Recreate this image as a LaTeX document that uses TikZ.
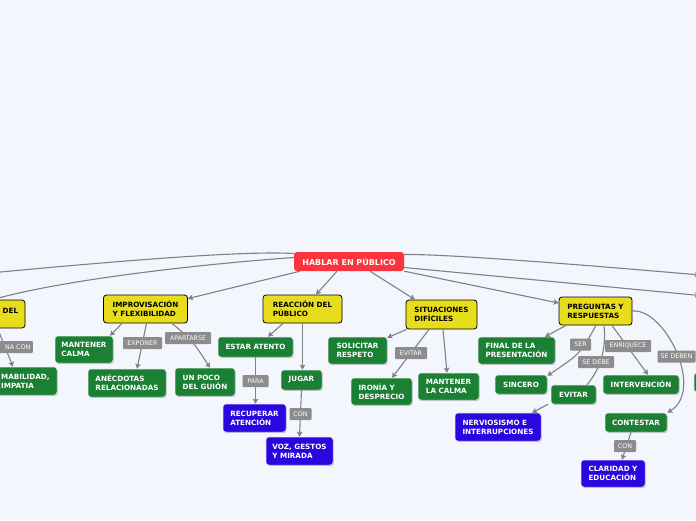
\documentclass[tikz,border=0pt]{standalone}
\usepackage{fontspec}
\setmainfont{DejaVu Sans}
\usetikzlibrary{arrows.meta,shadows}
\definecolor{bg}{RGB}{243,246,253}
\definecolor{hred}{RGB}{250,52,62}
\definecolor{yel}{RGB}{232,221,29}
\definecolor{grn}{RGB}{27,128,52}
\definecolor{blu}{RGB}{44,6,222}
\definecolor{lgray}{RGB}{140,140,140}
\definecolor{cgray}{RGB}{128,128,134}
\tikzset{
  basebox/.style={rounded corners=3pt, inner xsep=2pt, inner ysep=0pt, align=left,
    font=\bfseries\fontsize{7.2}{8.8}\selectfont},
  redbox/.style={basebox, fill=hred, text=white, font=\bfseries\fontsize{8}{9}\selectfont},
  ybox/.style={basebox, fill=yel, draw=black, line width=0.8pt},
  gbox/.style={basebox, fill=grn, text=white, draw=white!85!grn, line width=0.5pt,
    drop shadow={shadow xshift=0.7pt, shadow yshift=-0.9pt, opacity=0.25, fill=black}},
  bbox/.style={gbox, fill=blu, draw=white!85!blu},
  lbl/.style={fill=lgray, text=white, rounded corners=1pt, inner sep=0pt,
    minimum height=12pt, font=\fontsize{6.3}{7}\selectfont},
  conn/.style={draw=cgray, line width=1.1pt, -{Stealth[length=5pt,width=5.5pt,inset=1pt]}},
  plain/.style={draw=cgray, line width=1.1pt},
}
\begin{document}
\begin{tikzpicture}[x=1pt,y=-1pt]
\fill[bg] (0,0) rectangle (696,520);
\useasboundingbox (0,0) rectangle (696,520);

% main nodes
\node[redbox, minimum width=110, minimum height=19] (hab) at (349,261.5) {HABLAR EN PÚBLICO};
\node[ybox, minimum width=85, minimum height=28] (del) at (-17.5,314) {};
\node[font=\bfseries\fontsize{7.2}{8.8}\selectfont, inner sep=0pt, anchor=west] (deltxt) at (2.5,310.5) {DEL};
\node[ybox, minimum width=84, minimum height=28] (improv) at (145.5,309) {IMPROVISACIÓN\\Y FLEXIBILIDAD};
\node[ybox, minimum width=79, minimum height=28] (reac) at (302.5,309) {REACCIÓN DEL\\PÚBLICO};
\node[ybox, minimum width=71, minimum height=29] (sit) at (441.5,314.5) {SITUACIONES\\DIFÍCILES};
\node[ybox, minimum width=73, minimum height=28] (preg) at (595.5,311) {PREGUNTAS Y\\RESPUESTAS};

% second level
\node[gbox, minimum width=70, minimum height=28] (amab) at (22,381) {};
\node[font=\bfseries\fontsize{7.2}{8.8}\selectfont, text=white, inner sep=0pt, anchor=west, align=left] (amabtxt) at (1,381) {MABILIDAD,\\IMPATIA};
\node[gbox, minimum width=58, minimum height=27] (mcalma) at (84,349.5) {MANTENER\\CALMA};
\node[gbox, minimum width=78, minimum height=28] (anec) at (127,383) {ANÉCDOTAS\\RELACIONADAS};
\node[gbox, minimum width=60, minimum height=28] (unpoco) at (205,382) {UN POCO\\DEL GUIÓN};
\node[gbox, minimum width=75, minimum height=20] (estar) at (255.5,347) {ESTAR ATENTO};
\node[gbox, minimum width=41, minimum height=20] (jugar) at (301.5,380) {JUGAR};
\node[bbox, minimum width=63, minimum height=28] (recup) at (254.5,418) {RECUPERAR\\ATENCIÓN};
\node[bbox, minimum width=67, minimum height=28] (voz) at (299.5,451) {VOZ, GESTOS\\Y MIRADA};
\node[gbox, minimum width=59, minimum height=27] (solic) at (357.5,350.5) {SOLICITAR\\RESPETO};
\node[gbox, minimum width=61, minimum height=27] (ironia) at (381.5,391.5) {IRONÍA Y\\DESPRECIO};
\node[gbox, minimum width=61, minimum height=27] (mant2) at (448.5,386.5) {MANTENER\\LA CALMA};
\node[gbox, minimum width=77, minimum height=27] (final) at (516.5,350.5) {FINAL DE LA\\PRESENTACIÓN};
\node[gbox, minimum width=52, minimum height=19] (sincero) at (521,384.5) {SINCERO};
\node[gbox, minimum width=45, minimum height=19] (evitar) at (573.5,394.5) {EVITAR};
\node[bbox, minimum width=86, minimum height=28] (nerv) at (498,427) {NERVIOSISMO E\\INTERRUPCIONES};
\node[gbox, minimum width=76, minimum height=19] (interv) at (641,384.5) {INTERVENCIÓN};
\node[gbox, minimum width=62, minimum height=19] (contest) at (636,422.5) {CONTESTAR};
\node[bbox, minimum width=64, minimum height=27] (clar) at (613,473.5) {CLARIDAD Y\\EDUCACIÓN};
\node[gbox, minimum width=66, minimum height=19] (rightbox) at (727,382.5) {};

% free ends
\coordinate (offL1) at (-5,272.5);
\coordinate (offR1) at (700,275);
\coordinate (offR2) at (700,295.5);

% connectors
\draw[conn] ([yshift=8pt]hab.west) .. controls (250,251) and (150,258) .. (offL1);
\draw[conn] ([yshift=4pt]hab.west) .. controls (230,262) and (80,276) .. ([xshift=10pt]del.north);
\draw[conn] ([xshift=-49pt]hab.south) -- ([yshift=-4pt]improv.north east);
\draw[conn] ([xshift=-12pt]hab.south) -- ([xshift=13.5pt]reac.north);
\draw[conn] ([xshift=21pt]hab.south) -- ([xshift=-26.5pt]sit.north);
\draw[conn] (hab.south east) -- ([yshift=8pt]preg.west);
\draw[conn] ([yshift=7pt]hab.east) .. controls (440,254) and (550,262) .. (offR1);
\draw[conn] ([yshift=-6pt]hab.east) -- (offR2);

\draw[conn] ([xshift=15pt]del.south) -- ([xshift=-9pt]amab.north);
\draw[conn] ([xshift=-23.5pt]improv.south) -- ([xshift=26pt]mcalma.north);
\draw[conn] ([xshift=1pt]improv.south) -- ([xshift=10pt]anec.north);
\draw[conn] ([xshift=26.5pt]improv.south) .. controls (192,340) .. ([xshift=5pt]unpoco.north);
\draw[conn] ([xshift=-19.5pt]reac.south) -- ([xshift=12.5pt]estar.north);
\draw[conn] (reac.south) -- (reac.south |- jugar.north);
\draw[conn] (estar.south) -- (estar.south |- recup.north);
\draw[conn] (jugar.south) -- (voz.north);
\draw[conn] ([xshift=-35pt]sit.south) -- ([yshift=-1pt]solic.north east);
\draw[conn] ([xshift=-12.5pt]sit.south) -- ([xshift=10.5pt]ironia.north);
\draw[conn] ([xshift=1.5pt]sit.south) -- ([xshift=-1.5pt]mant2.north);
\draw[conn] ([xshift=-29.5pt]preg.south) -- ([xshift=28.5pt]final.north);
\draw[conn] ([xshift=0.5pt]preg.south) .. controls (580,354) .. ([yshift=-1pt]sincero.north east);
\draw[plain] ([xshift=8.5pt]preg.south) .. controls (607,352) and (598,372) .. ([xshift=13.5pt]evitar.north);
\draw[conn] ([xshift=16.5pt]preg.south) -- ([xshift=7pt]interv.north);
\draw[conn] (preg.east) .. controls (665,308) and (705,390) .. (contest.north east);
\draw[conn] ([xshift=-25.5pt]evitar.south) -- ([xshift=34pt]nerv.north);
\draw[conn] ([xshift=-5pt]contest.south) -- ([xshift=9pt]clar.north);

% labels
\node[lbl, minimum width=60, anchor=east, text width=55, align=right] (nacon) at (33,347) {NA CON};
\node[lbl, minimum width=39] (expo) at (142.5,343) {EXPONER};
\node[lbl, minimum width=46] (apart) at (188,338) {APARTARSE};
\node[lbl, minimum width=26] (para) at (255.5,381) {PARA};
\node[lbl, minimum width=22] (con1) at (300.5,414) {CON};
\node[lbl, minimum width=32] (evit) at (411,353) {EVITAR};
\node[lbl, minimum width=21] (ser) at (580.5,344.5) {SER};
\node[lbl, minimum width=36] (sedebe) at (596,362) {SE DEBE};
\node[lbl, minimum width=46] (enriq) at (628,346) {ENRIQUECE};
\node[lbl, minimum width=38] (sedeben) at (676.5,356.5) {SE DEBEN};
\node[lbl, minimum width=22] (con2) at (625,446) {CON};
\end{tikzpicture}
\end{document}
